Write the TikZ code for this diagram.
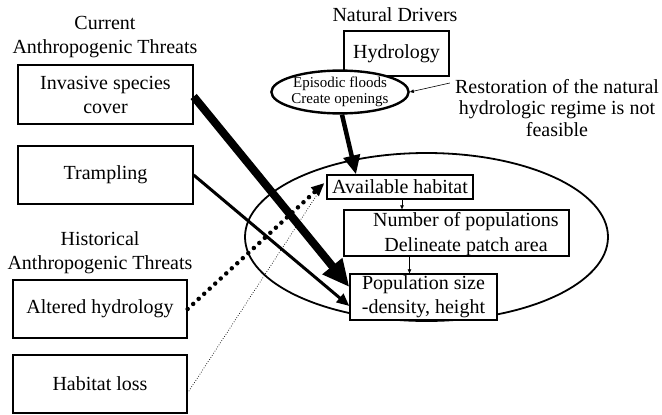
\documentclass[tikz,border=0pt]{standalone}
\usepackage{fontspec}
\setmainfont{Liberation Serif}
\usetikzlibrary{arrows.meta,calc,shapes.geometric}

\begin{document}
\begin{tikzpicture}[x=1pt,y=-1pt,
  txt/.style={font=\fontsize{20}{24}\selectfont,align=center,inner sep=0pt},
  small/.style={font=\fontsize{15}{16.5}\selectfont,align=center,inner sep=0pt},
  box/.style={draw,line width=1.3pt,fill=white,inner sep=0pt,txt},
  thick arrow/.style={line width=#1,-{Triangle[length=4.2*#1,width=3.6*#1]}},
  thin arrow/.style={line width=0.6pt,-{Triangle[length=4pt,width=3.5pt]}}]
\useasboundingbox (0,0) rectangle (662,415);

% habitat ellipse
\node[draw,ellipse,line width=1.8pt,minimum width=363pt,minimum height=168pt] (hab) at (426.5,237) {};

% headings
\node[txt] (curhead) at (105,37) {Current\\Anthropogenic Threats};
\node[txt] (histhead) at (100,253) {Historical\\Anthropogenic Threats};
\node[txt] (nathead) at (395,15) {Natural Drivers};

% threat boxes
\node[box,minimum width=175pt,minimum height=59pt] (inv) at (105.5,94.5) {Invasive species\\cover};
\node[box,minimum width=175pt,minimum height=58pt] (tram) at (105.5,175) {Trampling};
\node[box,minimum width=174pt,minimum height=58pt] (alt) at (100,309) {Altered hydrology};
\node[box,minimum width=174pt,minimum height=58pt] (loss) at (100,384) {Habitat loss};

% natural drivers
\node[box,minimum width=105pt,minimum height=45pt] (hyd) at (396.5,53.5) {Hydrology};
\node[draw,ellipse,fill=white,line width=2.4pt,minimum width=116pt,minimum height=34pt,inner sep=0pt,small] (epi) at (340,92) {Episodic floods\\Create openings};
\node[txt,font=\fontsize{20}{21.5}\selectfont] (rest) at (557,108) {Restoration of the natural\\hydrologic regime is not\\feasible};

% habitat chain
\node[box,minimum width=146pt,minimum height=24pt] (avail) at (400,187) {Available habitat};
\node[box,minimum width=225pt,minimum height=46pt] (num) at (456.5,233) {};
\node[txt,font=\fontsize{20}{25}\selectfont] (numtxt) at (466,234) {Number of populations\\Delineate patch area};
\node[box,minimum width=147pt,minimum height=46pt] (pop) at (423.5,297) {Population size\\-density, height};

% connectors
\draw[thin arrow] ([xshift=-5pt,yshift=25pt]rest.west) -- (epi.east);
\draw[thick arrow=4.5pt] ([xshift=2pt]epi.south) -- ([xshift=-44pt]avail.north);
\draw[thin arrow] ([xshift=2pt]avail.south) -- ([xshift=2pt]avail.south |- num.north);
\draw[thin arrow] ([xshift=-14pt]pop.north |- num.south) -- ([xshift=-14pt]pop.north);
\draw[line width=8pt,-{Triangle[length=27pt,width=24pt]}] ([yshift=-2pt]inv.east) -- ([yshift=10pt]pop.west);
\draw[thick arrow=3pt] (tram.east) -- ([yshift=-9pt]pop.west);
\draw[line width=4.5pt,line cap=round,dash pattern=on 0pt off 7.5pt,-{Triangle[length=13pt,width=11pt]}] (alt.east) -- ([xshift=-2pt,yshift=4pt]avail.west);
\draw[line width=1pt,line cap=round,dash pattern=on 0pt off 2.5pt] ([yshift=-9pt]loss.east) -- ([xshift=-3pt,yshift=2pt]avail.west);
\end{tikzpicture}
\end{document}
